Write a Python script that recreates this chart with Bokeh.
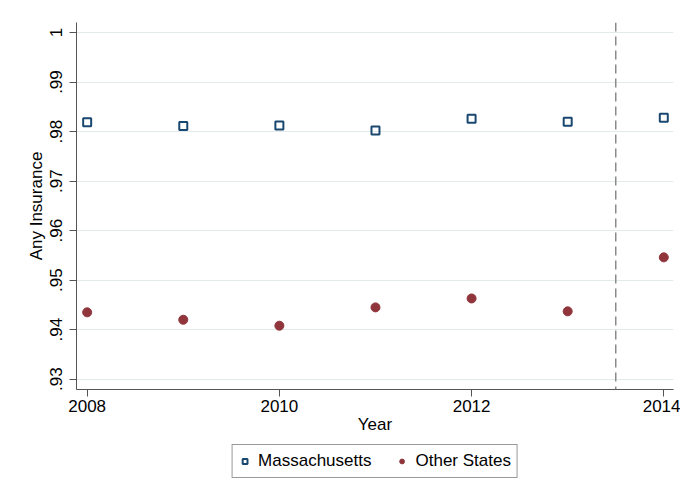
from bokeh.plotting import figure
from bokeh.layouts import column
from bokeh.models import (ColumnDataSource, FixedTicker, CustomJSTickFormatter, Range1d,
                          Span, Legend, LegendItem)
from bokeh.embed import file_html
from bokeh.resources import INLINE

years = [2008, 2009, 2010, 2011, 2012, 2013, 2014]
massachusetts = [0.9819, 0.9811, 0.9812, 0.9802, 0.9826, 0.9820, 0.9828]
other_states = [0.9435, 0.9420, 0.9408, 0.9445, 0.9463, 0.9437, 0.9546]
x_ticks = [2008, 2010, 2012, 2014]
y_ticks = [0.93, 0.94, 0.95, 0.96, 0.97, 0.98, 0.99, 1.0]
policy_line = 2013.5

FONT = "Liberation Sans"
NAVY = "#1a476f"
MAROON = "#90353b"

src = ColumnDataSource(dict(year=years, ma=massachusetts, other=other_states))

p = figure(frame_width=597, frame_height=367, output_backend="svg", toolbar_location=None,
           x_range=Range1d(2007.889, 2014.101), y_range=Range1d(0.92792, 1.00202),
           min_border_left=76, min_border_right=7, min_border_top=22, min_border_bottom=0)
p.outline_line_color = None
p.background_fill_color = "white"
p.border_fill_color = "white"

sq_style = dict(marker="square", size=8, fill_color=None, line_color=NAVY, line_width=2)
ci_style = dict(marker="circle", size=9, fill_color=MAROON, line_color=MAROON)

p.scatter("year", "ma", source=src, **sq_style)
p.scatter("year", "other", source=src, **ci_style)

p.add_layout(Span(location=policy_line, dimension="height", line_color="#8a8a8a",
                  line_width=1.5, line_dash="9 5"))

# axes
p.xaxis.ticker = FixedTicker(ticks=x_ticks)
p.yaxis.ticker = FixedTicker(ticks=y_ticks)
p.yaxis.formatter = CustomJSTickFormatter(code="""
    if (Math.abs(tick - 1) < 1e-6) return "1";
    return "." + Math.round(tick * 100);
""")
for ax in (p.xaxis[0], p.yaxis[0]):
    ax.axis_line_color = "#555555"
    ax.major_tick_line_color = "#555555"
    ax.major_tick_out = 7
    ax.major_tick_in = 0
    ax.minor_tick_line_color = None
    ax.major_label_text_font = FONT
    ax.major_label_text_font_size = "17px"
    ax.major_label_text_color = "black"
    ax.axis_label_text_font = FONT
    ax.axis_label_text_font_size = "17px"
    ax.axis_label_text_font_style = "normal"
    ax.axis_label_text_color = "black"

p.xaxis.axis_label = "Year"
p.yaxis.axis_label = "Any Insurance"
p.yaxis.major_label_orientation = "vertical"
p.xaxis.major_label_standoff = 3
p.xaxis.axis_label_standoff = 0
p.yaxis.major_label_standoff = 7
p.yaxis.axis_label_standoff = 2

p.xgrid.grid_line_color = None
p.ygrid.ticker = FixedTicker(ticks=y_ticks)
p.ygrid.grid_line_color = "#e3eaec"
p.ygrid.grid_line_width = 1.2

# legend strip below the plot (same frame margins so it centres under the plot)
lg = figure(width=680, height=56, output_backend="svg", toolbar_location=None,
            x_range=Range1d(0, 1), y_range=Range1d(0, 1),
            x_axis_location=None, y_axis_location=None,
            min_border_left=76, min_border_right=7, min_border_top=0, min_border_bottom=0)
lg.outline_line_color = None
lg.xgrid.visible = False
lg.ygrid.visible = False
lg.border_fill_color = "white"
l1 = lg.scatter("year", "ma", source=src, **sq_style)
l2 = lg.scatter("year", "other", source=src, **ci_style)

legend = Legend(items=[LegendItem(label="Massachusetts", renderers=[l1]),
                       LegendItem(label="Other States", renderers=[l2])],
                orientation="horizontal", location="top_center")
legend.label_text_font = FONT
legend.label_text_font_size = "17px"
legend.label_text_color = "black"
legend.border_line_color = "#333333"
legend.border_line_width = 1
legend.padding = 6
legend.spacing = 24
legend.glyph_width = 12
legend.label_standoff = 8
legend.margin = 8
lg.add_layout(legend)

layout = column(p, lg, spacing=0)
open("out.html", "w").write(file_html(layout, INLINE))
